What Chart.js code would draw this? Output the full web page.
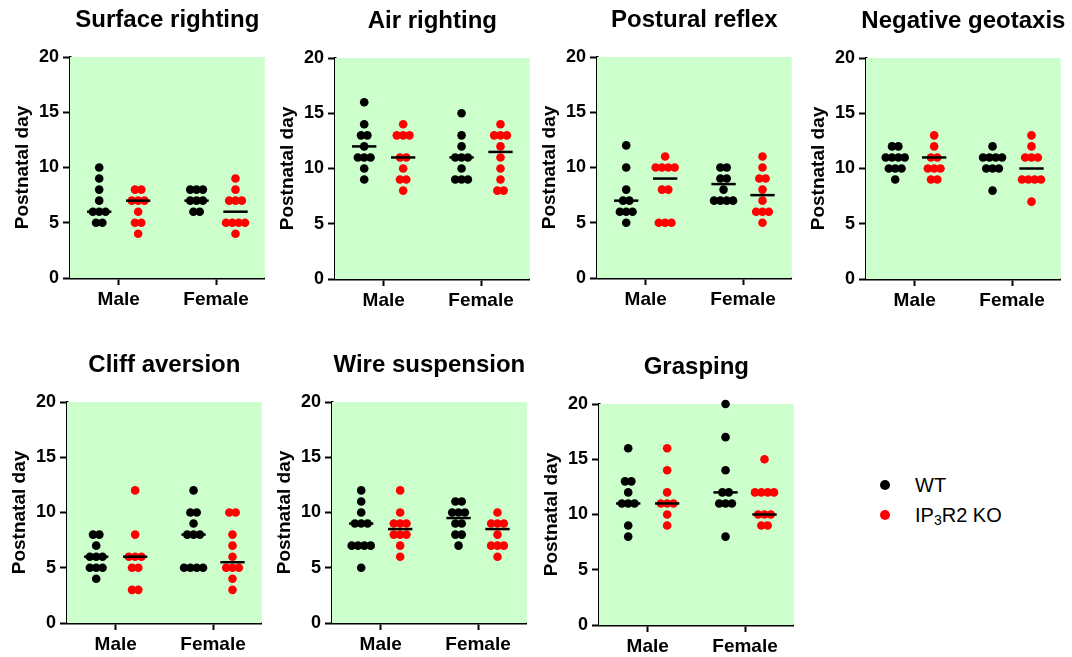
<!DOCTYPE html>
<html>
<head>
<meta charset="utf-8">
<script src="https://cdn.jsdelivr.net/npm/chart.js@4.4.1/dist/chart.umd.min.js"></script>
<style>
body { margin: 0; width: 1072px; height: 657px; overflow: hidden; background: #fff; position: relative; font-family: "Liberation Sans", Arial, sans-serif; }
canvas { position: absolute; }
.legend { position: absolute; left: 878px; top: 470px; font-size: 20px; color: #000; }
.legend .row { height: 30px; display: flex; align-items: center; }
.legend .dot { width: 10px; height: 10px; border-radius: 50%; margin: 0 25px 0 2px; }
.legend sub { font-size: 14px; position: relative; top: 5px; vertical-align: baseline; }
</style>
</head>
<body>
<canvas id="p0" width="271" height="320"></canvas>
<canvas id="p1" width="271" height="320"></canvas>
<canvas id="p2" width="271" height="320"></canvas>
<canvas id="p3" width="271" height="320"></canvas>
<canvas id="p4" width="271" height="320"></canvas>
<canvas id="p5" width="271" height="320"></canvas>
<canvas id="p6" width="271" height="320"></canvas>
<div class="legend">
  <div class="row"><span class="dot" style="background:#000"></span>WT</div>
  <div class="row"><span class="dot" style="background:#ff0000"></span>IP<sub>3</sub>R2 KO</div>
</div>
<script>
// categories
const sexes = ['Male', 'Female'];
const titles = ['Surface righting', 'Air righting', 'Postural reflex', 'Negative geotaxis',
                'Cliff aversion', 'Wire suspension', 'Grasping'];

// values: [male, female] per genotype, medians as [WT M, KO M, WT F, KO F]
const surfWT = [[10, 9, 8, 7, 6, 6, 6, 5, 5], [8, 8, 8, 7, 7, 7, 6, 6]];
const surfKO = [[8, 8, 7, 7, 7, 6, 5, 5, 4], [9, 8, 7, 7, 7, 5, 5, 5, 5, 4]];
const surfMed = [6, 7, 7, 6];

const airWT = [[16, 14, 13, 13, 12, 11, 11, 11, 10, 9], [15, 13, 12, 11, 11, 11, 10, 9, 9, 9]];
const airKO = [[14, 13, 13, 13, 11, 11, 10, 9, 9, 8], [14, 13, 13, 13, 12, 11, 10, 9, 8, 8]];
const airMed = [12, 11, 11, 11.5];

const postWT = [[12, 10, 8, 7, 7, 6, 6, 6, 5], [10, 10, 9, 9, 8, 7, 7, 7, 7]];
const postKO = [[11, 10, 10, 10, 10, 8, 8, 5, 5, 5], [11, 10, 9, 9, 8, 7, 6, 6, 6, 5]];
const postMed = [7, 9, 8.5, 7.5];

const negWT = [[12, 12, 11, 11, 11, 11, 10, 10, 10, 9], [12, 11, 11, 11, 11, 10, 10, 10, 8]];
const negKO = [[13, 12, 11, 11, 10, 10, 10, 9, 9], [13, 12, 11, 11, 11, 9, 9, 9, 9, 7]];
const negMed = [11, 11, 11, 10];

const cliffWT = [[8, 8, 7, 6, 6, 6, 5, 5, 5, 4], [12, 10, 10, 9, 8, 8, 8, 5, 5, 5, 5]];
const cliffKO = [[12, 8, 6, 6, 6, 5, 5, 3, 3], [10, 10, 8, 7, 6, 5, 5, 5, 4, 3]];
const cliffMed = [6, 6, 8, 5.5];

const wireWT = [[12, 11, 10, 9, 9, 9, 7, 7, 7, 7, 5], [11, 11, 10, 10, 10, 9, 9, 8, 8, 7]];
const wireKO = [[12, 10, 9, 9, 9, 8, 8, 8, 7, 6], [10, 9, 9, 9, 8, 7, 7, 7, 6]];
const wireMed = [9, 8.5, 9.5, 8.5];

const graspWT = [[16, 13, 13, 12, 11, 11, 11, 9, 8], [20, 17, 14, 12, 12, 11, 11, 11, 8]];
const graspKO = [[16, 14, 12, 11, 11, 11, 10, 9], [15, 12, 12, 12, 12, 10, 10, 10, 9, 9]];
const graspMed = [11, 11, 12, 10];

const yTicks = [0, 5, 10, 15, 20];

const wtSets = [surfWT, airWT, postWT, negWT, cliffWT, wireWT, graspWT];
const koSets = [surfKO, airKO, postKO, negKO, cliffKO, wireKO, graspKO];
const medSets = [surfMed, airMed, postMed, negMed, cliffMed, wireMed, graspMed];

// where each panel's y axis sits on the page
const axisLeft = [70, 335, 597, 866, 67, 332, 599];
const panelTop = [0, 1, 0, 1, 345, 345, 347];

const FONT = '"Liberation Sans", Arial, sans-serif';

const panelDecor = {
    id: 'panelDecor',
    beforeDatasetsDraw(chart) {
        const a = chart.chartArea, ctx = chart.ctx;
        ctx.save();
        ctx.fillStyle = '#ccffcc';
        ctx.fillRect(a.left, a.top, a.right - a.left, a.bottom - a.top);
        ctx.restore();
    },
    afterDraw(chart, args, opts) {
        const a = chart.chartArea, ctx = chart.ctx;
        ctx.save();
        ctx.font = 'bold 24px ' + FONT;
        ctx.fillStyle = '#000';
        ctx.textAlign = 'center';
        ctx.textBaseline = 'middle';
        ctx.fillText(opts.title, (a.left + a.right) / 2, 20);
        ctx.restore();
    }
};

// spread equal values sideways like a column scatter
function spread(values, center) {
    const counts = {}, seen = {};
    values.forEach(v => counts[v] = (counts[v] || 0) + 1);
    return values.map(v => {
        const k = seen[v] = (seen[v] || 0) + 1;
        return { x: center + (k - 1 - (counts[v] - 1) / 2) * 0.13, y: v };
    });
}

function medianLine(x, m) {
    return {
        data: [{ x: x - 0.25, y: m }, { x: x + 0.25, y: m }],
        showLine: true, borderColor: '#000', borderWidth: 2.5,
        pointRadius: 0, clip: false
    };
}

function axisStyle() {
    return {
        grid: { display: true, drawOnChartArea: false, drawTicks: true, tickLength: 7, tickWidth: 2, tickColor: '#000' },
        border: { display: true, color: '#000', width: 2.5 }
    };
}

for (let i = 0; i < 7; i++) {
    const canvas = document.getElementById('p' + i);
    canvas.style.left = (axisLeft[i] - 72) + 'px';
    canvas.style.top = panelTop[i] + 'px';

    const wt = wtSets[i], ko = koSets[i], med = medSets[i];
    const datasets = [];
    sexes.forEach((s, j) => {
        const c = 1 + 2 * j;
        datasets.push(medianLine(c - 0.4, med[2 * j]));
        datasets.push(medianLine(c + 0.4, med[2 * j + 1]));
    });
    sexes.forEach((s, j) => {
        const c = 1 + 2 * j;
        datasets.push({ data: spread(wt[j], c - 0.4), backgroundColor: '#000', borderWidth: 0, pointRadius: 4.3, clip: false });
        datasets.push({ data: spread(ko[j], c + 0.4), backgroundColor: '#ff0000', borderWidth: 0, pointRadius: 4.3, clip: false });
    });

    new Chart(canvas.getContext('2d'), {
        type: 'scatter',
        data: { datasets: datasets },
        options: {
            responsive: false,
            animation: false,
            layout: { padding: { top: 57, right: 4, left: 0, bottom: 0 } },
            plugins: { legend: { display: false }, tooltip: { enabled: false }, panelDecor: { title: titles[i] } },
            scales: {
                x: Object.assign({
                    type: 'linear', min: 0, max: 4,
                    afterBuildTicks: sc => { sc.ticks = sexes.map((s, j) => ({ value: 1 + 2 * j })); },
                    afterFit: sc => { sc.height = 42; },
                    ticks: {
                        callback: v => sexes[(v - 1) / 2],
                        color: '#000', padding: 3, maxRotation: 0, autoSkip: false,
                        font: { family: FONT, size: 19, weight: 'bold' }
                    }
                }, axisStyle()),
                y: Object.assign({
                    min: 0, max: 20,
                    afterBuildTicks: sc => { sc.ticks = yTicks.map(v => ({ value: v })); },
                    afterFit: sc => { sc.width = 72; },
                    ticks: { color: '#000', padding: 4, font: { family: FONT, size: 18, weight: 'bold' } },
                    title: {
                        display: true, text: 'Postnatal day', color: '#000',
                        padding: { top: 13, bottom: 0 },
                        font: { family: FONT, size: 19, weight: 'bold' }
                    }
                }, axisStyle())
            }
        },
        plugins: [panelDecor]
    });
}
</script>
</body>
</html>
